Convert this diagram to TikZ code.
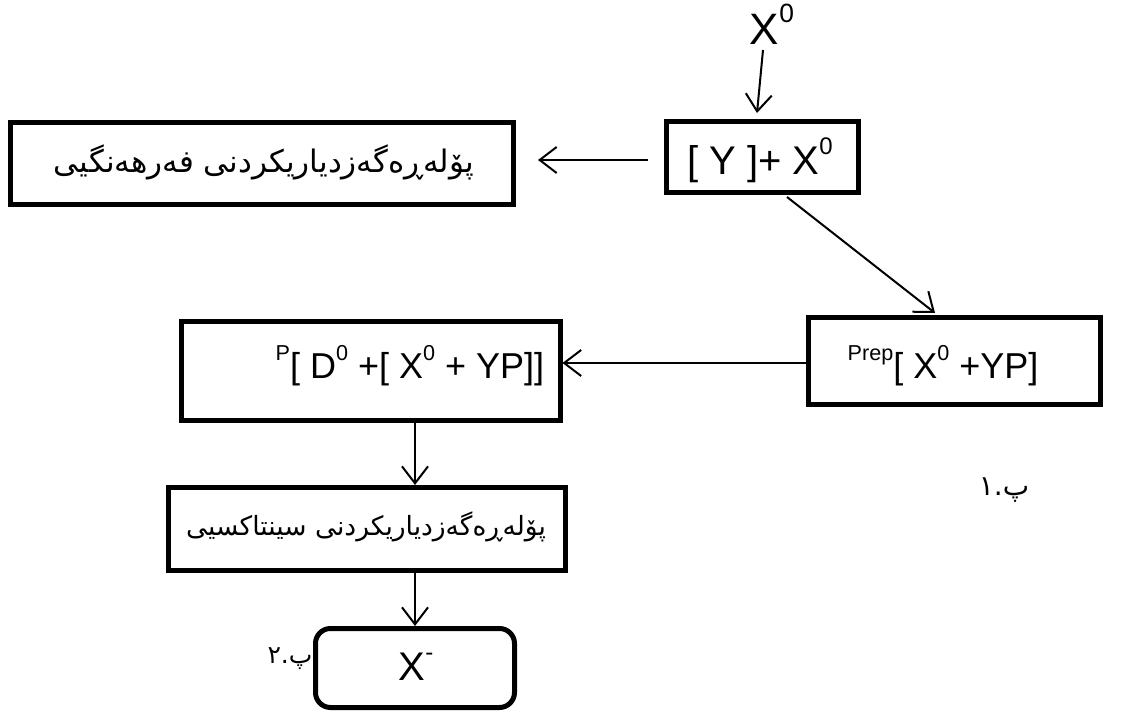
\documentclass[tikz,border=0pt]{standalone}
\usepackage{fontspec}
\setmainfont{Liberation Sans}
\newfontfamily\kurd[Script=Arabic]{DejaVu Sans}
\TeXXeTstate=1
\usetikzlibrary{arrows.meta}
\newcommand\myup[1]{\raisebox{0.5em}{\scalebox{0.6}{#1}}}
\tikzset{
  box/.style={draw, line width=5pt, inner sep=0pt},
  arr/.style={line width=2pt, -{Straight Barb[length=17pt,width=26pt,line width=2pt]}},
  lat/.style={inner sep=0pt, font=\fontsize{36}{40}\selectfont},
  kt/.style={inner sep=0pt, font=\kurd\fontsize{28}{34}\selectfont},
}
\begin{document}
\begin{tikzpicture}[x=1pt,y=-1pt]
\useasboundingbox (0,0) rectangle (1130,711);
% boxes
\node[box, minimum width=503pt, minimum height=82pt] (b1) at (261.5,164) {};
\node[kt, font=\kurd\fontsize{31}{36}\selectfont] (t1) at (264,162) {\beginR پۆلەڕەگەزدیاریکردنی فەرهەنگیی\endR};
\node[box, minimum width=192pt, minimum height=71pt] (b2) at (762,157.5) {};
\node[lat, font=\fontsize{40}{44}\selectfont, anchor=base] (t2) at (760,175) {[ Y ]+ X\myup{0}};
\node[lat, font=\fontsize{44}{48}\selectfont, anchor=base] (x0) at (772,45) {X\myup{0}};
\node[box, minimum width=292pt, minimum height=86pt] (b3) at (954,361) {};
\node[lat, anchor=base] (t3) at (943,378) {\myup{Prep}[ X\myup{0} +YP]};
\node[box, minimum width=379pt, minimum height=99pt] (b4) at (370.5,371) {};
\node[lat, anchor=base] (t4) at (410,378) {\myup{P}[ D\myup{0} +[ X\myup{0} + YP]]};
\node[box, minimum width=397pt, minimum height=83pt] (b5) at (366.5,529) {};
\node[kt, font=\kurd\fontsize{26.5}{32}\selectfont] (t5) at (366,527) {\beginR پۆلەڕەگەزدیاریکردنی سینتاکسیی\endR};
\node[box, rounded corners=15pt, minimum width=199pt, minimum height=79pt] (b6) at (415,668) {};
\node[lat, font=\fontsize{40}{44}\selectfont, anchor=base] (t6) at (416,680) {X\myup{-}};
% labels
\node[kt] (l1) at (1004,490) {\beginR پ.١\endR};
\node[kt, font=\kurd\fontsize{25}{30}\selectfont] (l2) at (290,659) {\beginR پ.٢\endR};
% connector endpoints
\coordinate (a1) at (763,50);
\coordinate (a2) at (757,113);
\coordinate (c1) at (648,160);
\coordinate (c2) at (538,160);
\coordinate (d1) at (787,197);
\coordinate (d2) at (935,313);
% arrows
\draw[arr] (a1) -- (a2);
\draw[arr] (c1) -- (c2);
\draw[arr] (d1) -- (d2);
\draw[arr] (b3.west |- 0,363) -- (b4.east |- 0,363);
\draw[arr] (415,0 |- b4.south) -- (415,0 |- b5.north);
\draw[arr] (415,0 |- b5.south) -- (b6.north);
\end{tikzpicture}
\end{document}
